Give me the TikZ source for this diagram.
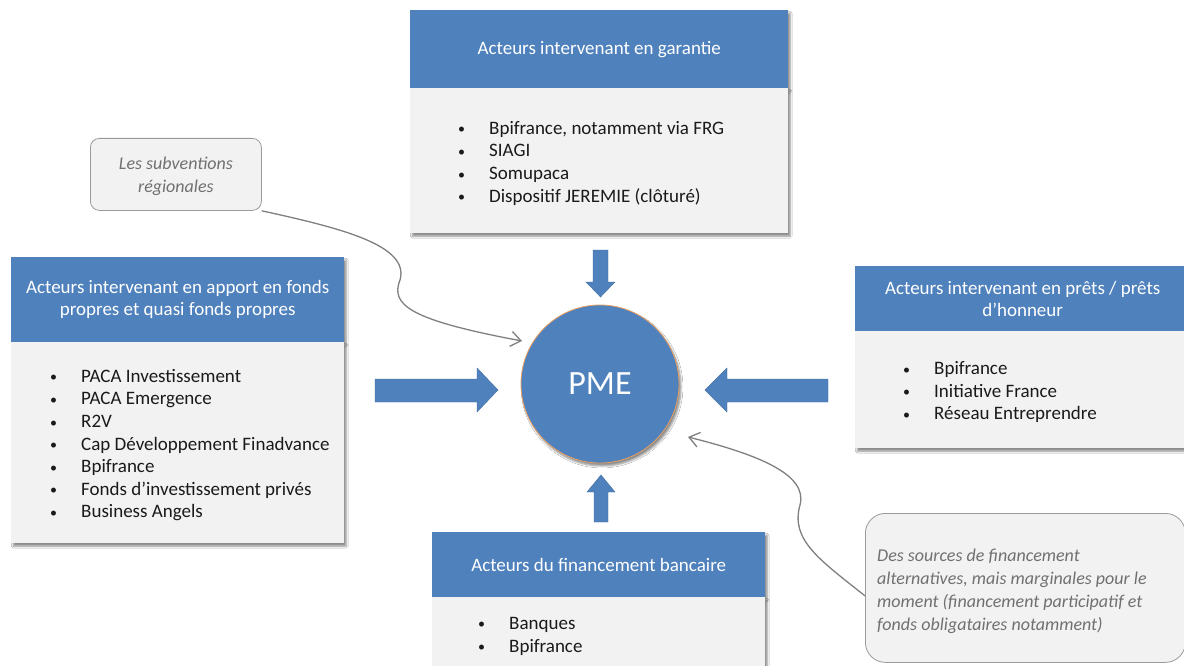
\documentclass[tikz,border=0pt]{standalone}
\usepackage{fontspec}
\setmainfont{Carlito}
\usetikzlibrary{shadows.blur,arrows.meta}
\definecolor{ublue}{HTML}{4F81BD}
\definecolor{lgray}{HTML}{F2F2F2}
\definecolor{cgray}{HTML}{707070}
\definecolor{bord}{HTML}{9A9A9A}
\definecolor{ored}{HTML}{E8A060}
\definecolor{txt}{HTML}{1A1A1A}
\newcommand\itm[1]{\makebox[31pt][l]{\raisebox{0.5pt}{\fontsize{14}{14}\selectfont\textbullet}}#1}
\begin{document}
\begin{tikzpicture}[x=1pt,y=-1pt,
 shd/.style={blur shadow={shadow xshift=2pt,shadow yshift=-3pt,shadow blur steps=5,shadow opacity=45}},
 hdr/.style={rectangle, fill=ublue, anchor=north west, inner sep=0pt, text=white, font=\fontsize{19}{22}\selectfont, align=center, shd},
 bodybox/.style={rectangle, fill=lgray, anchor=north west, inner sep=0pt, shd},
 lst/.style={anchor=west, inner sep=0pt, align=left, font=\fontsize{19}{22.6}\selectfont, text=txt},
 callout/.style={rectangle, draw=bord, fill=lgray, line width=0.8pt, text=cgray, anchor=north west, font=\itshape\fontsize{18}{23}\selectfont},
 curve/.style={draw=gray, line width=1.3pt, -{Straight Barb[length=10pt,width=15pt]}},
 blk/.style={fill=ublue, draw=ublue!85!black, line width=0.4pt}
]
\fill[white] (0,0) rectangle (1184,666);
\useasboundingbox (0,0) rectangle (1184,666);

% garantie (top)
\node[hdr, minimum width=378pt, minimum height=78pt] (gh) at (410,10) {Acteurs intervenant en garantie};
\node[bodybox, minimum width=378pt, minimum height=145pt] (gb) at (410,88) {};
\node[lst] (gl) at ([xshift=48pt,yshift=-2.5pt]gb.west) {\itm{Bpifrance, notamment via FRG}\\\itm{SIAGI}\\\itm{Somupaca}\\\itm{Dispositif JEREMIE (clôturé)}};

% fonds propres (left)
\node[hdr, minimum width=333pt, minimum height=85pt] (fh) at (11,257) {Acteurs intervenant en apport en fonds\\propres et quasi fonds propres};
\node[bodybox, minimum width=333pt, minimum height=201pt] (fb) at (11,342) {};
\node[lst] (fl) at ([xshift=39pt,yshift=-2.5pt]fb.west) {\itm{PACA Investissement}\\\itm{PACA Emergence}\\\itm{R2V}\\\itm{Cap Développement Finadvance}\\\itm{Bpifrance}\\\itm{Fonds d’investissement privés}\\\itm{Business Angels}};

% prets (right)
\node[hdr, minimum width=335pt, minimum height=65pt] (ph) at (855,266) {Acteurs intervenant en prêts / prêts\\d’honneur};
\node[bodybox, minimum width=335pt, minimum height=117pt] (pb) at (855,331) {};
\node[lst] (pl) at ([xshift=48pt,yshift=-2.5pt]pb.west) {\itm{Bpifrance}\\\itm{Initiative France}\\\itm{Réseau Entreprendre}};

% bancaire (bottom)
\node[hdr, minimum width=333pt, minimum height=65pt] (bh) at (432,532) {Acteurs du financement bancaire};
\node[bodybox, minimum width=333pt, minimum height=74pt] (bb) at (432,597) {};
\node[lst] (bl) at ([xshift=46pt,yshift=-2pt]bb.west) {\itm{Banques}\\\itm{Bpifrance}};

% PME
\node[circle, fill=ublue, draw=ored, line width=0.8pt, minimum size=158pt, inner sep=0pt, text=white, font=\fontsize{34}{34}\selectfont, shd] (pme) at (600,384) {PME};

% block arrows
\fill[blk] (593,250) -- (608,250) -- (608,282) -- (615,282) -- (600.5,297) -- (586,282) -- (593,282) -- cycle;
\fill[blk] (594,522) -- (608,522) -- (608,492) -- (615,492) -- (601,475) -- (587,492) -- (594,492) -- cycle;
\fill[blk] (375,379) -- (477,379) -- (477,368) -- (498,390) -- (477,412) -- (477,402) -- (375,402) -- cycle;
\fill[blk] (828,379) -- (727,379) -- (727,368) -- (705,390) -- (727,412) -- (727,402) -- (828,402) -- cycle;

% callouts
\node[callout, minimum width=171pt, minimum height=72pt, rounded corners=9pt, inner sep=0pt] (sub) at (90,138) {};
\node[text=cgray, font=\itshape\fontsize{18}{23}\selectfont, align=center, inner sep=0pt] (subt) at ([yshift=-2pt]sub.center) {Les subventions\\régionales};
\node[callout, minimum width=320pt, minimum height=149pt, rounded corners=20pt, inner sep=0pt] (alt) at (865,513) {};
\node[text=cgray, font=\itshape\fontsize{18}{23}\selectfont, align=left, anchor=west, inner sep=0pt] (altt) at ([xshift=12pt,yshift=-3pt]alt.west) {Des sources de financement\\alternatives, mais marginales pour le\\moment (financement participatif et\\fonds obligataires notamment)};

\coordinate (t1) at (522,341);
\coordinate (t2) at (688,437);
\draw[curve] (sub.south east) .. controls (340,228) and (410,245) .. (400,280) .. controls (390,305) and (410,320) .. (t1);
\draw[curve] ([yshift=-8pt]alt.west) .. controls (820,560) and (790,540) .. (800,505) .. controls (808,475) and (760,455) .. (t2);
\end{tikzpicture}
\end{document}
